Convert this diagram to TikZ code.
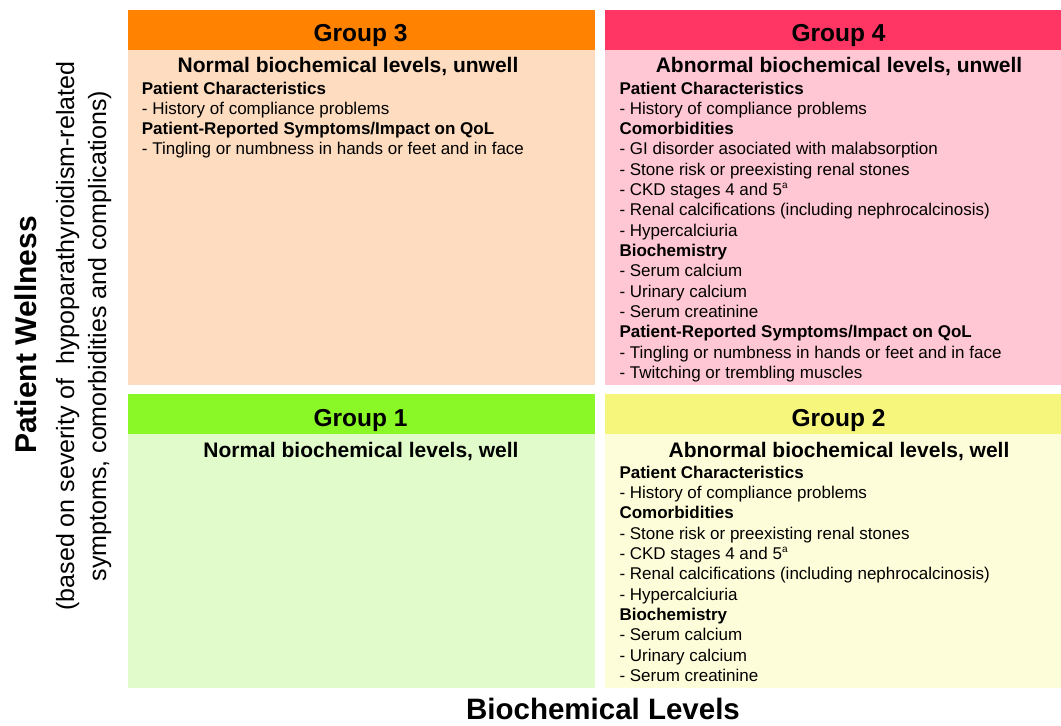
\documentclass[tikz,border=0pt]{standalone}
\usepackage{fontspec}
\setmainfont{Liberation Sans}
\usepackage{xcolor}
\usepackage{tikz}
\usetikzlibrary{positioning}

\definecolor{headThree}{HTML}{FF8200}
\definecolor{bodyThree}{HTML}{FDDCBF}
\definecolor{headFour}{HTML}{FF3663}
\definecolor{bodyFour}{HTML}{FFC6D3}
\definecolor{headOne}{HTML}{8AF826}
\definecolor{bodyOne}{HTML}{E1FBCA}
\definecolor{headTwo}{HTML}{F7F67C}
\definecolor{bodyTwo}{HTML}{FEFDD9}

\newcommand{\supA}{\raisebox{0.4em}{\fontsize{10}{10}\selectfont a}}

\tikzset{
    groupHead/.style={font=\fontsize{24.5}{28}\selectfont\bfseries, anchor=base, inner sep=0pt},
    groupSub/.style={font=\fontsize{21}{25}\selectfont\bfseries, anchor=base, inner sep=0pt},
    itemText/.style={font=\fontsize{17}{20}\selectfont, anchor=base west, inner sep=0pt},
    sideHead/.style={font=\fontsize{30}{34}\selectfont\bfseries, anchor=base, inner sep=0pt, rotate=90},
    sideSub/.style={font=\fontsize{25}{29}\selectfont, anchor=base, inner sep=0pt, rotate=90},
    axisHead/.style={font=\fontsize{29.5}{34}\selectfont\bfseries, anchor=base, inner sep=0pt}
}

\begin{document}
\begin{tikzpicture}[x=1pt, y=-1pt]

    \useasboundingbox (0,0) rectangle (1061,726);

    % Quadrant fills
    \fill[bodyThree] (128,50) rectangle (595,385);
    \fill[headThree] (128,10) rectangle (595,50);
    \fill[bodyFour] (605,50) rectangle (1061,385);
    \fill[headFour] (605,10) rectangle (1061,50);
    \fill[bodyOne] (128,434) rectangle (595,688);
    \fill[headOne] (128,394) rectangle (595,434);
    \fill[bodyTwo] (605,434) rectangle (1061,688);
    \fill[headTwo] (605,394) rectangle (1061,434);

    % Group headers
    \node[groupHead] (g3head) at (360.5,41.5) {Group 3};
    \node[groupHead] (g4head) at (838.5,41.5) {Group 4};
    \node[groupHead] (g1head) at (360.5,426.5) {Group 1};
    \node[groupHead] (g2head) at (838.5,426.5) {Group 2};

    % Subtitles
    \node[groupSub] (g3sub) at (348,72.7) {Normal biochemical levels, unwell};
    \node[groupSub] (g4sub) at (839,72.7) {Abnormal biochemical levels, unwell};
    \node[groupSub] (g1sub) at (361,457) {Normal biochemical levels, well};
    \node[groupSub] (g2sub) at (839,457) {Abnormal biochemical levels, well};

    % Group 3 list
    \foreach \entry [count=\i from 0] in {
        {\bfseries Patient Characteristics},
        - History of compliance problems,
        {\bfseries Patient-Reported Symptoms/Impact on QoL},
        - Tingling or numbness in hands or feet and in face}
        \node[itemText] (g3-\i) at (141.7,94+20.33*\i) {\entry};

    % Group 4 list
    \foreach \entry [count=\i from 0] in {
        {\bfseries Patient Characteristics},
        - History of compliance problems,
        {\bfseries Comorbidities},
        - GI disorder asociated with malabsorption,
        - Stone risk or preexisting renal stones,
        - CKD stages 4 and 5\supA,
        - Renal calcifications (including nephrocalcinosis),
        - Hypercalciuria,
        {\bfseries Biochemistry},
        - Serum calcium,
        - Urinary calcium,
        - Serum creatinine,
        {\bfseries Patient-Reported Symptoms/Impact on QoL},
        - Tingling or numbness in hands or feet and in face,
        - Twitching or trembling muscles}
        \node[itemText] (g4-\i) at (619.3,94+20.33*\i) {\entry};

    % Group 2 list
    \foreach \entry [count=\i from 0] in {
        {\bfseries Patient Characteristics},
        - History of compliance problems,
        {\bfseries Comorbidities},
        - Stone risk or preexisting renal stones,
        - CKD stages 4 and 5\supA,
        - Renal calcifications (including nephrocalcinosis),
        - Hypercalciuria,
        {\bfseries Biochemistry},
        - Serum calcium,
        - Urinary calcium,
        - Serum creatinine}
        \node[itemText] (g2-\i) at (619.3,478.3+20.33*\i) {\entry};

    % Axis labels
    \node[sideHead] (wellness) at (36.5,335) {Patient Wellness};
    \node[sideSub] (basisA) at (74,336) {(based on severity of\ \ hypoparathyroidism-related};
    \node[sideSub] (basisB) at (106,336) {symptoms, comorbidities and complications)};
    \node[axisHead] (biochem) at (603,719) {Biochemical Levels};

\end{tikzpicture}
\end{document}
